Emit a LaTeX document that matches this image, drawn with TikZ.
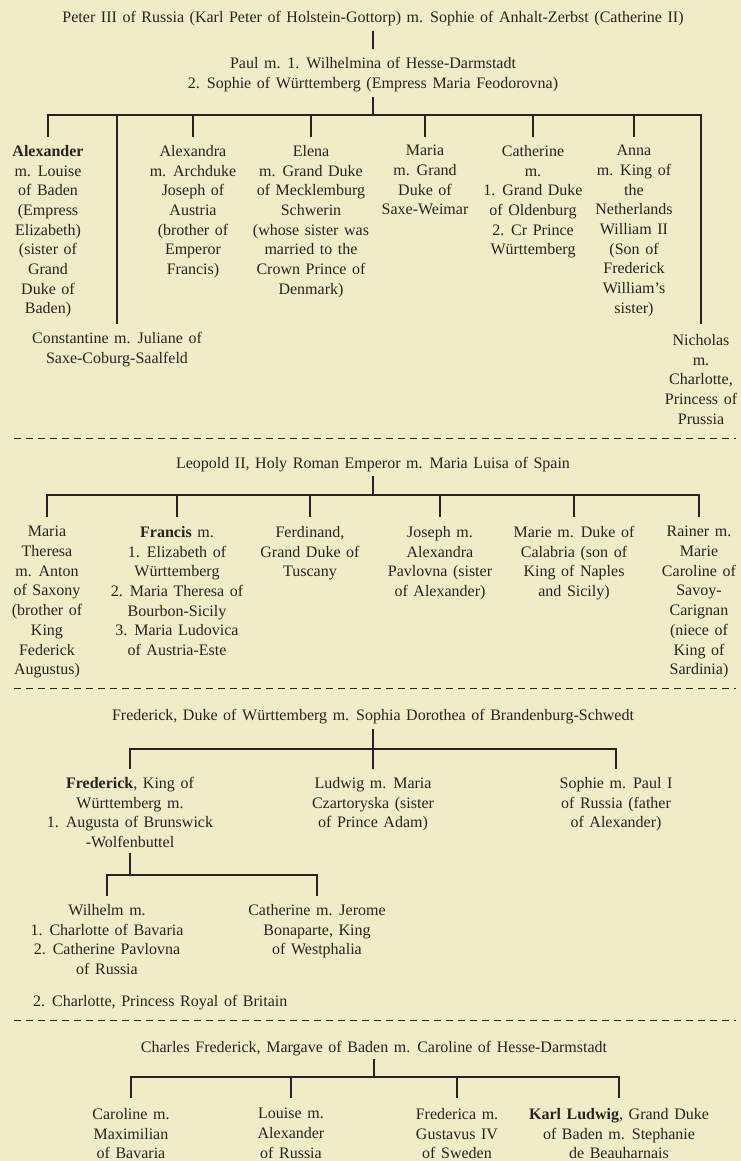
\documentclass[tikz,border=0pt]{standalone}
\usepackage{fontspec}
\setmainfont[WordSpace=1.4]{Liberation Serif}
\usetikzlibrary{positioning}
\definecolor{paper}{RGB}{241,236,200}
\definecolor{ink}{RGB}{38,35,32}
\tikzstyle{tree_style}=[
	x=1pt, y=1pt,
	person/.style={anchor=north,align=center,inner sep=0pt,text=ink,font=\fontsize{16}{19.7}\selectfont},
	couple/.style={person},
	branch/.style={draw=ink,line width=1.1pt,line cap=rect},
	divider/.style={draw=ink,line width=1pt,dash pattern=on 7pt off 5pt}
]
\begin{document}
\begin{tikzpicture}[tree_style]
	\fill[paper] (0,0) rectangle (741,-1161);
	\useasboundingbox (0,0) rectangle (741,-1161);
	
	%Russia
	\node[couple] (peter) at (373,-11) {Peter III of Russia (Karl Peter of Holstein-Gottorp) m. Sophie of Anhalt-Zerbst (Catherine II)};
	\node[couple] (paul) at (373,-57) {Paul m. 1. Wilhelmina of Hesse-Darmstadt\\2. Sophie of Württemberg (Empress Maria Feodorovna)};
	\coordinate (bar1) at (373,-115);
	
	\node[person] (alexander) at (48,-145) {\textbf{Alexander}\\m. Louise\\of Baden\\(Empress\\Elizabeth)\\(sister of\\Grand\\Duke of\\Baden)};
	\node[person] (alexandra) at (193,-145) {Alexandra\\m. Archduke\\Joseph of\\Austria\\(brother of\\Emperor\\Francis)};
	\node[person] (elena) at (311,-145) {Elena\\m. Grand Duke\\of Mecklemburg\\Schwerin\\(whose sister was\\married to the\\Crown Prince of\\Denmark)};
	\node[person] (maria) at (425,-145) {Maria\\m. Grand\\Duke of\\Saxe-Weimar};
	\node[person] (catherine) at (533,-145) {Catherine\\m.\\1. Grand Duke\\of Oldenburg\\2. Cr Prince\\Württemberg};
	\node[person] (anna) at (634,-145) {Anna\\m. King of\\the\\Netherlands\\William II\\(Son of\\Frederick\\William's\\sister)};
	\node[person] (constantine) at (117,-332) {Constantine m. Juliane of\\Saxe-Coburg-Saalfeld};
	\node[person] (nicholas) at (701,-334) {Nicholas\\m.\\Charlotte,\\Princess of\\Prussia};
	
	\draw[branch] ([yshift=-5pt]peter.south) -- ([yshift=9pt]paul.north);
	\draw[branch] ([yshift=-6pt]paul.south) -- (bar1);
	\draw[branch] (bar1 -| alexander) -- (bar1 -| nicholas);
	\foreach \kid in {alexander,alexandra,elena,maria,catherine,anna,constantine}
		\draw[branch] (bar1 -| \kid) -- ([yshift=9pt]\kid.north);
	\draw[branch] (bar1 -| nicholas) -- ([yshift=11pt]nicholas.north);
	
	%Austria
	\node[couple] (leopold) at (373,-457) {Leopold II, Holy Roman Emperor m. Maria Luisa of Spain};
	\coordinate (bar2) at (373,-495);
	
	\node[person] (mtheresa) at (47,-526) {Maria\\Theresa\\m. Anton\\of Saxony\\(brother of\\King\\Federick\\Augustus)};
	\node[person] (francis) at (177,-526) {\textbf{Francis} m.\\1. Elizabeth of\\Württemberg\\2. Maria Theresa of\\Bourbon-Sicily\\3. Maria Ludovica\\of Austria-Este};
	\node[person] (ferdinand) at (310,-526) {Ferdinand,\\Grand Duke of\\Tuscany};
	\node[person] (joseph) at (440,-526) {Joseph m.\\Alexandra\\Pavlovna (sister\\of Alexander)};
	\node[person] (marie) at (574,-526) {Marie m. Duke of\\Calabria (son of\\King of Naples\\and Sicily)};
	\node[person] (rainer) at (699,-526) {Rainer m.\\Marie\\Caroline of\\Savoy-\\Carignan\\(niece of\\King of\\Sardinia)};
	
	\draw[branch] ([yshift=-4pt]leopold.south) -- (bar2);
	\draw[branch] (bar2 -| mtheresa) -- (bar2 -| rainer);
	\foreach \kid in {mtheresa,francis,ferdinand,joseph,marie,rainer}
		\draw[branch] (bar2 -| \kid) -- ([yshift=10pt]\kid.north);
	
	%Wuerttemberg
	\node[couple] (fduke) at (373,-709) {Frederick, Duke of Württemberg m. Sophia Dorothea of Brandenburg-Schwedt};
	\coordinate (bar3) at (373,-749);
	
	\node[person] (fking) at (130,-777) {\textbf{Frederick}, King of\\Württemberg m.\\1. Augusta of Brunswick\\-Wolfenbuttel};
	\node[person] (ludwig) at (373,-777) {Ludwig m. Maria\\Czartoryska (sister\\of Prince Adam)};
	\node[person] (sophie) at (616,-777) {Sophie m. Paul I\\of Russia (father\\of Alexander)};
	
	\draw[branch] ([yshift=-5pt]fduke.south) -- (bar3);
	\draw[branch] (bar3 -| fking) -- (bar3 -| sophie);
	\foreach \kid in {fking,ludwig,sophie}
		\draw[branch] (bar3 -| \kid) -- ([yshift=9pt]\kid.north);
	
	%grandchildren
	\coordinate (bar4) at (130,-875);
	\node[person] (wilhelm) at (107,-904) {Wilhelm m.\\1. Charlotte of Bavaria\\2. Catherine Pavlovna\\of Russia};
	\node[person] (jcatherine) at (317,-904) {Catherine m. Jerome\\Bonaparte, King\\of Westphalia};
	\node[person,anchor=north west] (charlotte) at (33,-995) {2. Charlotte, Princess Royal of Britain};
	
	\draw[branch] ([yshift=-6pt]fking.south -| bar4) -- (bar4);
	\draw[branch] (bar4 -| wilhelm) -- (bar4 -| jcatherine);
	\foreach \kid in {wilhelm,jcatherine}
		\draw[branch] (bar4 -| \kid) -- ([yshift=9pt]\kid.north);
	
	%Baden
	\node[couple] (charles) at (374,-1041) {Charles Frederick, Margave of Baden m. Caroline of Hesse-Darmstadt};
	\coordinate (bar5) at (374,-1077);
	
	\node[person] (caroline) at (131,-1108) {Caroline m.\\Maximilian\\of Bavaria};
	\node[person] (louise) at (291,-1108) {Louise m.\\Alexander\\of Russia};
	\node[person] (frederica) at (457,-1108) {Frederica m.\\Gustavus IV\\of Sweden};
	\node[person] (karl) at (619,-1108) {\textbf{Karl Ludwig}, Grand Duke\\of Baden m. Stephanie\\de Beauharnais};
	
	\draw[branch] ([yshift=-3pt]charles.south) -- (bar5);
	\draw[branch] (bar5 -| caroline) -- (bar5 -| karl);
	\foreach \kid in {caroline,louise,frederica,karl}
		\draw[branch] (bar5 -| \kid) -- ([yshift=11pt]\kid.north);
	
	%dividers
	\foreach \y in {438,688,1020}
		\draw[divider] (14,-\y) -- (736,-\y);
\end{tikzpicture}
\end{document}
